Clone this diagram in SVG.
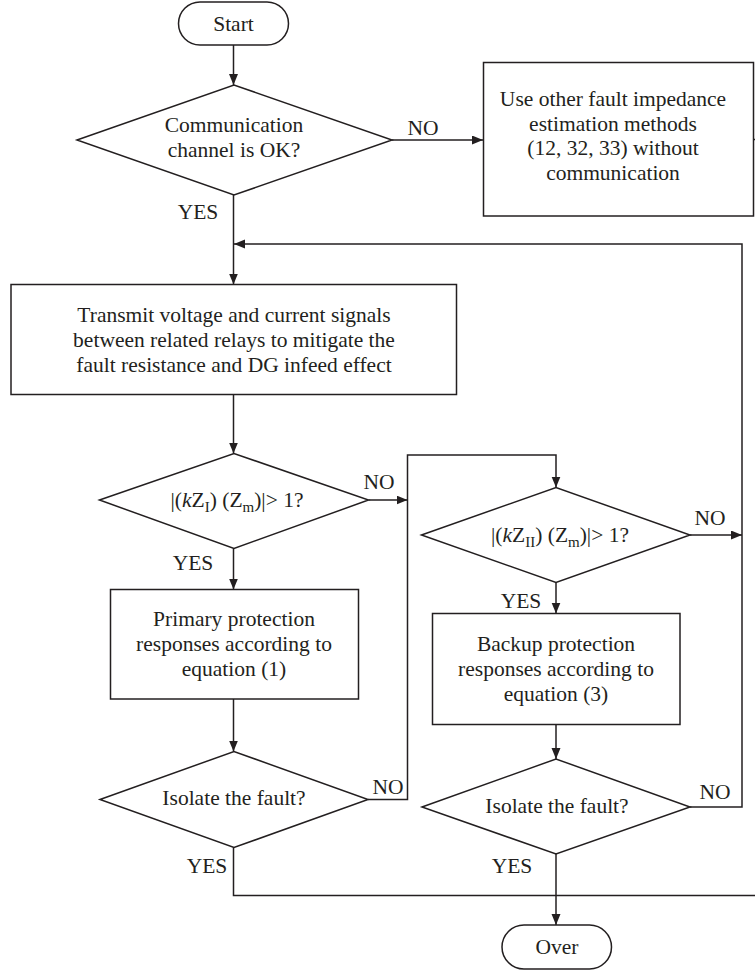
<svg xmlns="http://www.w3.org/2000/svg" width="755" height="973" viewBox="0 0 755 973">
<style>
.s{fill:#fff;stroke:#231f20;stroke-width:1.5}
.c{fill:none;stroke:#231f20;stroke-width:1.5}
text{font-family:"Liberation Serif","Times New Roman",serif;font-size:21.5px;fill:#231f20;text-anchor:middle}
.sub{font-size:15px}
</style>
<defs>
<marker id="ah" markerUnits="userSpaceOnUse" markerWidth="12" markerHeight="10" refX="11" refY="4.5" orient="auto">
<path d="M0,0 L11,4.5 L0,9 z" fill="#231f20"/>
</marker>
</defs>
<g id="connectors">
<line class="c" x1="233.5" y1="45" x2="233.5" y2="85" marker-end="url(#ah)"/>
<line class="c" x1="392" y1="140" x2="483" y2="140" marker-end="url(#ah)"/>
<line class="c" x1="753" y1="139.5" x2="755" y2="139.5"/>
<line class="c" x1="233.5" y1="195" x2="233.5" y2="284.5" marker-end="url(#ah)"/>
<polyline class="c" points="690,807 742,807 742,244 234,244" marker-end="url(#ah)"/>
<line class="c" x1="233.5" y1="394.5" x2="233.5" y2="453.5" marker-end="url(#ah)"/>
<line class="c" x1="368.5" y1="500" x2="407.5" y2="500" marker-end="url(#ah)"/>
<polyline class="c" points="368,799.5 407.5,799.5 407.5,455 556,455 556,487.5" marker-end="url(#ah)"/>
<line class="c" x1="690" y1="535" x2="742" y2="535" marker-end="url(#ah)"/>
<line class="c" x1="556" y1="582.5" x2="556" y2="613.5" marker-end="url(#ah)"/>
<line class="c" x1="233.5" y1="548.5" x2="233.5" y2="589.5" marker-end="url(#ah)"/>
<line class="c" x1="233.5" y1="699" x2="233.5" y2="751.5" marker-end="url(#ah)"/>
<line class="c" x1="556" y1="724.5" x2="556" y2="759" marker-end="url(#ah)"/>
<polyline class="c" points="233.5,847.5 233.5,895.5 755,895.5"/>
<line class="c" x1="556" y1="854" x2="556" y2="925" marker-end="url(#ah)"/>
<text x="423" y="135">NO</text>
<text x="198" y="219">YES</text>
<text x="379" y="489">NO</text>
<text x="193" y="570">YES</text>
<text x="710" y="525">NO</text>
<text x="521" y="608">YES</text>
<text x="388" y="794">NO</text>
<text x="715" y="799">NO</text>
<text x="207" y="873">YES</text>
<text x="512" y="873">YES</text>
</g>
<g id="start">
<rect class="s" x="178.5" y="2" width="110" height="43" rx="21.5"/>
<text x="233.5" y="30.5">Start</text>
</g>
<g id="comm-check">
<polygon class="s" points="77,140 234,85 392,140 234,195"/>
<text x="234" y="132">Communication</text>
<text x="234" y="157">channel is OK?</text>
</g>
<g id="other-methods">
<rect class="s" x="483.5" y="62.5" width="270" height="153.5"/>
<text x="613" y="106">Use other fault impedance</text>
<text x="613" y="130.5">estimation methods</text>
<text x="613" y="155">(12, 32, 33) without</text>
<text x="613" y="179.5">communication</text>
</g>
<g id="transmit">
<rect class="s" x="11" y="284.5" width="445.5" height="110"/>
<text x="234" y="322">Transmit voltage and current signals</text>
<text x="234" y="347">between related relays to mitigate the</text>
<text x="234" y="372">fault resistance and DG infeed effect</text>
</g>
<g id="zone1-check">
<polygon class="s" points="99.5,500 234,453.5 368.5,500 234,548.5"/>
<text x="237" y="507">|(<tspan font-style="italic">k</tspan>Z<tspan class="sub" dy="5">I</tspan><tspan dy="-5">) (Z</tspan><tspan class="sub" dy="5">m</tspan><tspan dy="-5">)|&gt; 1?</tspan></text>
</g>
<g id="zone2-check">
<polygon class="s" points="421.5,535 556,487.5 690,535 556,582.5"/>
<text x="560" y="542">|(<tspan font-style="italic">k</tspan>Z<tspan class="sub" dy="5">II</tspan><tspan dy="-5">) (Z</tspan><tspan class="sub" dy="5">m</tspan><tspan dy="-5">)|&gt; 1?</tspan></text>
</g>
<g id="primary">
<rect class="s" x="110.5" y="589.5" width="248" height="109.5"/>
<text x="234" y="625.5">Primary protection</text>
<text x="234" y="650.5">responses according to</text>
<text x="234" y="676">equation (1)</text>
</g>
<g id="backup">
<rect class="s" x="432.5" y="613.5" width="247.5" height="111"/>
<text x="556" y="650.5">Backup protection</text>
<text x="556" y="675.5">responses according to</text>
<text x="556" y="700.5">equation (3)</text>
</g>
<g id="isolate1">
<polygon class="s" points="100,799.5 234,751.5 368,799.5 234,847.5"/>
<text x="234" y="805">Isolate the fault?</text>
</g>
<g id="isolate2">
<polygon class="s" points="422,807 556,759 690,807 556,854"/>
<text x="557" y="813">Isolate the fault?</text>
</g>
<g id="over">
<rect class="s" x="502" y="925" width="109.5" height="44" rx="22"/>
<text x="557" y="954">Over</text>
</g>
</svg>
